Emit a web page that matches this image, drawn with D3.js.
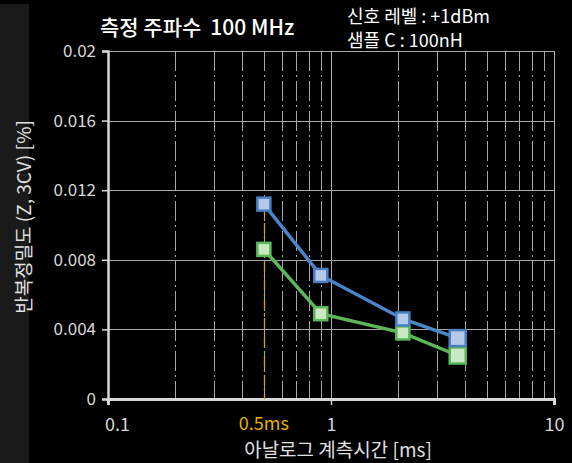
<!DOCTYPE html>
<html>
<head>
<meta charset="utf-8">
<script src="https://cdn.jsdelivr.net/npm/d3@7"></script>
<style>
  html, body { margin: 0; padding: 0; background: #000; }
  svg { display: block; font-family: "Noto Sans CJK KR", "Noto Sans", sans-serif; }
</style>
</head>
<body>
<svg id="chart" width="572" height="463"></svg>
<script>
// Measurement time [ms] and repeatability (Z, 3CV) [%]
const times = [0.5, 0.9, 2.1, 3.7];
const seriesBlue = [0.0112, 0.0071, 0.0046, 0.0035];
const seriesGreen = [0.0086, 0.0049, 0.0038, 0.0025];
const yTicks = [0, 0.004, 0.008, 0.012, 0.016, 0.02];
const yTickLabels = ["0", "0.004", "0.008", "0.012", "0.016", "0.02"];
const xTicks = [0.1, 1, 10];
const xTickLabels = ["0.1", "1", "10"];
const xMinor = [0.2, 0.3, 0.4, 0.5, 0.6, 0.7, 0.8, 0.9, 2, 3, 4, 5, 6, 7, 8, 9];
const markedTime = 0.5;
const markedLabel = "0.5ms";

const svg = d3.select("#chart");
const W = 572, H = 463;
const plotL = 108, plotR = 554, plotT = 51, plotB = 399;

svg.append("rect").attr("width", W).attr("height", H).attr("fill", "#000");
svg.append("rect").attr("x", 0).attr("y", 4).attr("width", 29).attr("height", H - 4).attr("fill", "#1b1a1a");

const x = d3.scaleLog().domain([0.1, 10]).range([plotL, plotR]);
const y = d3.scaleLinear().domain([0, 0.02]).range([plotB, plotT]);

const grid = svg.append("g");
// minor vertical grid (dash-dot)
grid.selectAll("line.minor").data(xMinor).join("line")
  .attr("class", "minor")
  .attr("x1", d => Math.round(x(d)) + 0.5).attr("x2", d => Math.round(x(d)) + 0.5)
  .attr("y1", plotT).attr("y2", plotB)
  .attr("stroke", "#a8a8a8").attr("stroke-width", 1)
  .attr("stroke-dasharray", "20,4,2,4");
// decade line at 1 and right border
grid.selectAll("line.major").data([1, 10]).join("line")
  .attr("class", "major")
  .attr("x1", d => Math.round(x(d)) + 0.5).attr("x2", d => Math.round(x(d)) + 0.5)
  .attr("y1", plotT).attr("y2", plotB)
  .attr("stroke", "#b0b0b0").attr("stroke-width", 1);
// horizontal grid
grid.selectAll("line.h").data(yTicks.slice(1)).join("line")
  .attr("class", "h")
  .attr("x1", plotL).attr("x2", plotR)
  .attr("y1", d => Math.round(y(d)) + 0.5).attr("y2", d => Math.round(y(d)) + 0.5)
  .attr("stroke", "#a8a8a8").attr("stroke-width", 1.2);

// y axis
const yAxis = d3.axisLeft(y).tickValues(yTicks).tickSize(6).tickPadding(6)
  .tickFormat((d, i) => yTickLabels[i]);
const gy = svg.append("g").attr("transform", `translate(${plotL},0)`).call(yAxis);
gy.select(".domain").attr("stroke", "#d8d8d8").attr("stroke-width", 2.5);
gy.selectAll(".tick line").attr("stroke", "#d8d8d8").attr("stroke-width", 1.5);
gy.selectAll(".tick text").attr("fill", "#d8d8d8").attr("font-size", 17)
  .attr("font-family", "'Noto Sans CJK KR', sans-serif");

// x axis
const xAxis = d3.axisBottom(x).tickValues(xTicks).tickSize(6).tickPadding(13)
  .tickFormat((d, i) => xTickLabels[i]);
const gx = svg.append("g").attr("transform", `translate(0,${plotB})`).call(xAxis);
gx.select(".domain").attr("stroke", "#d8d8d8").attr("stroke-width", 3);
gx.selectAll(".tick line").attr("stroke", "#d8d8d8").attr("stroke-width", 1.5);
gx.selectAll(".tick text").attr("fill", "#d8d8d8").attr("font-size", 18)
  .attr("font-family", "'Noto Sans CJK KR', sans-serif")
  .attr("dx", (d, i) => i === 0 ? 9 : 0);

// marked measurement time
svg.append("line")
  .attr("x1", Math.round(x(markedTime)) + 0.5).attr("x2", Math.round(x(markedTime)) + 0.5)
  .attr("y1", y(seriesBlue[0])).attr("y2", plotB)
  .attr("stroke", "#d9a400").attr("stroke-width", 1.3)
  .attr("stroke-dasharray", "11,3,2,3");
svg.append("text")
  .attr("x", x(markedTime)).attr("y", 430)
  .attr("text-anchor", "middle").attr("fill", "#e6b000")
  .attr("font-size", 18).text(markedLabel);

// series
const series = [
  { values: seriesBlue, line: "#4a86c8", fill: "#b6c8ea", stroke: "#4a7fc2" },
  { values: seriesGreen, line: "#5cb85a", fill: "#cbe8c4", stroke: "#5cb85a" }
];
const lineGen = d3.line().x(d => x(d[0])).y(d => y(d[1]));
series.slice().reverse().forEach(s => {
  const pts = times.map((t, i) => [t, s.values[i]]);
  svg.append("path").datum(pts).attr("d", lineGen)
    .attr("fill", "none").attr("stroke", s.line).attr("stroke-width", 3.5);
});
series.slice().reverse().forEach(s => {
  const pts = times.map((t, i) => [t, s.values[i]]);
  svg.append("g").selectAll("rect").data(pts).join("rect")
    .attr("x", (d, i) => x(d[0]) - (i === pts.length - 1 ? 8 : 6.5))
    .attr("y", (d, i) => y(d[1]) - (i === pts.length - 1 ? 8 : 6.5))
    .attr("width", (d, i) => i === pts.length - 1 ? 16 : 13)
    .attr("height", (d, i) => i === pts.length - 1 ? 16 : 13)
    .attr("fill", s.fill).attr("stroke", s.stroke).attr("stroke-width", 2.5);
});

// titles
const title = svg.append("text").attr("x", 100).attr("y", 35)
  .attr("fill", "#fff").attr("font-size", 21).attr("font-weight", 500);
title.append("tspan").text("측정 주파수");
title.append("tspan").attr("dx", 9).text("100 MHz");

svg.append("text").attr("x", 347).attr("y", 23).attr("fill", "#fff")
  .attr("font-size", 18).text("신호 레벨 : +1dBm");
svg.append("text").attr("x", 347).attr("y", 47).attr("fill", "#fff")
  .attr("font-size", 18).text("샘플 C : 100nH");

svg.append("text")
  .attr("x", 338).attr("y", 457).attr("text-anchor", "middle")
  .attr("fill", "#e0e0e0").attr("font-size", 19)
  .text("아날로그 계측시간 [ms]");

svg.append("text")
  .attr("transform", "translate(31,217) rotate(-90)")
  .attr("text-anchor", "middle").attr("fill", "#e0e0e0").attr("font-size", 19)
  .text("반복정밀도 (Z, 3CV) [%]");
</script>
</body>
</html>
